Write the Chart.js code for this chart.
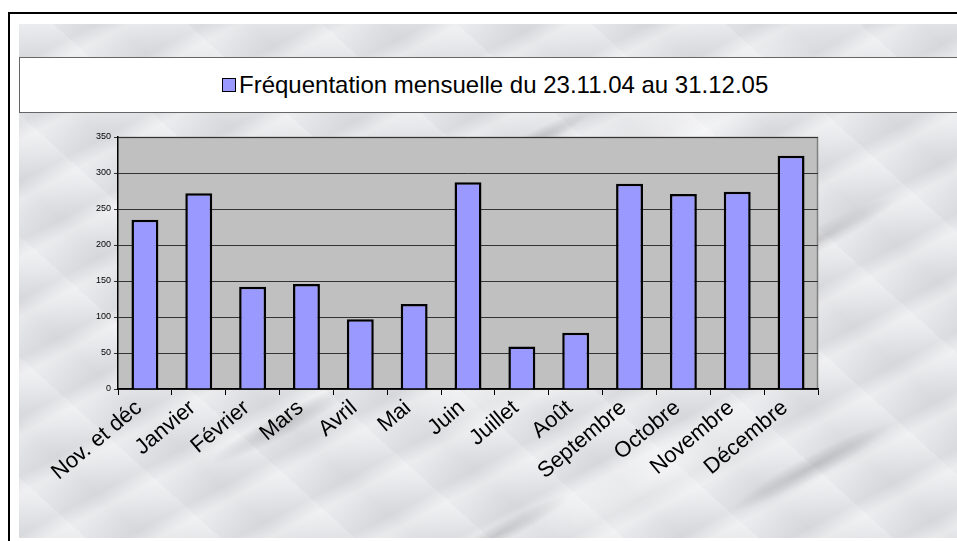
<!DOCTYPE html>
<html>
<head>
<meta charset="utf-8">
<script src="https://cdn.jsdelivr.net/npm/chart.js@4.4.1/dist/chart.umd.min.js"></script>
<style>
  html, body { margin: 0; padding: 0; background: #fff; }
  #page { position: relative; width: 957px; height: 541px; overflow: hidden; background: #fff; }
  #frame { position: absolute; left: 8px; top: 12px; width: 1000px; height: 600px;
           border-left: 2px solid #000; border-top: 2px solid #000; }
  #marble { position: absolute; left: 19px; top: 24px; right: 0; bottom: 3px; overflow: hidden;
    background-color: #e4e5e8; }
  #marble div { position: absolute; left: -200px; top: -300px; width: 1400px; height: 1100px;
    transform: rotate(-28deg);
    background-image:
      radial-gradient(ellipse 60px 10px at 10% 30%, rgba(110,110,115,0.35), transparent),
      radial-gradient(ellipse 80px 12px at 30% 52%, rgba(110,110,115,0.3), transparent),
      radial-gradient(ellipse 70px 10px at 55% 40%, rgba(110,110,115,0.3), transparent),
      radial-gradient(ellipse 90px 12px at 70% 60%, rgba(110,110,115,0.28), transparent),
      radial-gradient(ellipse 80px 10px at 40% 70%, rgba(110,110,115,0.3), transparent),
      radial-gradient(ellipse 90px 12px at 62% 78%, rgba(110,110,115,0.28), transparent),
      radial-gradient(ellipse 70px 10px at 22% 62%, rgba(120,120,125,0.28), transparent),
      radial-gradient(ellipse 60px 10px at 47% 48%, rgba(120,120,125,0.3), transparent),
      radial-gradient(ellipse 70px 10px at 78% 35%, rgba(120,120,125,0.28), transparent),
      radial-gradient(ellipse 60px 10px at 36% 32%, rgba(120,120,125,0.28), transparent),
      radial-gradient(ellipse 150px 40px at 48% 58%, rgba(255,255,255,0.6), transparent),
      radial-gradient(ellipse 160px 40px at 35% 40%, rgba(255,255,255,0.5), transparent),
      radial-gradient(ellipse 170px 45px at 66% 45%, rgba(255,255,255,0.5), transparent),
      radial-gradient(ellipse 160px 40px at 52% 72%, rgba(255,255,255,0.5), transparent),
      repeating-linear-gradient(0deg, rgba(255,255,255,0) 0px, rgba(255,255,255,0.3) 18px, rgba(150,150,155,0.1) 34px, rgba(255,255,255,0) 52px),
      repeating-linear-gradient(70deg, rgba(255,255,255,0) 0px, rgba(160,160,165,0.1) 40px, rgba(255,255,255,0.25) 90px);
  }
  #legend { position: absolute; left: 19px; top: 57px; width: 960px; height: 56px;
            background: #fff; border: 1px solid #666; box-sizing: border-box; }
  #legend span { position: absolute; left: 202px; top: 13px; font: 24px "Liberation Sans", Arial, sans-serif;
                 color: #000; white-space: nowrap; }
  #legend i { display: inline-block; width: 12px; height: 12px; background: #9999ff; border: 1px solid #000;
              margin-right: 3px; vertical-align: 1px; }
  #wrap { position: absolute; left: 0; top: 0; width: 957px; height: 541px; }
</style>
</head>
<body>
<div id="page">
  <div id="frame"></div>
  <div id="marble"><div></div></div>
  <div id="legend"><span><i></i>Fréquentation mensuelle du 23.11.04 au 31.12.05</span></div>
  <div id="wrap"><canvas id="chart"></canvas></div>
</div>
<script>
const months = ['Nov. et déc', 'Janvier', 'Février', 'Mars', 'Avril', 'Mai', 'Juin',
                'Juillet', 'Août', 'Septembre', 'Octobre', 'Novembre', 'Décembre'];
const visits = [235, 272, 142, 146, 97, 118, 287, 59, 78, 285, 271, 274, 324];
const seriesName = 'Fréquentation mensuelle du 23.11.04 au 31.12.05';

// grey plot area with thin border, like the old spreadsheet chart
const plotBg = {
  id: 'plotBg',
  beforeDraw(chart) {
    const { ctx, chartArea: a } = chart;
    ctx.save();
    ctx.fillStyle = '#c0c0c0';
    ctx.fillRect(a.left, a.top, a.right - a.left, a.bottom - a.top);
    ctx.strokeStyle = '#808080';
    ctx.lineWidth = 1.5;
    ctx.beginPath();
    ctx.moveTo(a.left, a.top + 0.5);
    ctx.lineTo(a.right - 0.5, a.top + 0.5);
    ctx.lineTo(a.right - 0.5, a.bottom);
    ctx.stroke();
    ctx.restore();
  }
};

new Chart(document.getElementById('chart'), {
  type: 'bar',
  data: {
    labels: months,
    datasets: [{
      label: seriesName,
      data: visits,
      backgroundColor: '#9999ff',
      borderColor: '#000',
      borderWidth: 2.5,
      barPercentage: 0.5,
      categoryPercentage: 1
    }]
  },
  options: {
    responsive: true,
    maintainAspectRatio: false,
    animation: false,
    layout: { padding: { top: 137, right: 139, left: 0, bottom: 0 } },
    plugins: { legend: { display: false }, tooltip: { enabled: false } },
    scales: {
      x: {
        afterFit(s) { s.height = 152; },
        grid: { drawOnChartArea: false, drawTicks: true, tickLength: 6, color: '#000' },
        border: { color: '#000', width: 1.5 },
        ticks: {
          color: '#000', minRotation: 40, maxRotation: 40, autoSkip: false,
          font: { family: '"Liberation Sans", Arial', size: 22 }, padding: 0, labelOffset: -6
        }
      },
      y: {
        min: 0, max: 350,
        afterFit(s) { s.width = 118; },
        grid: { color: '#333', lineWidth: 1, tickLength: 4, drawTicks: true },
        border: { color: '#000', width: 1.5 },
        ticks: {
          stepSize: 50, color: '#000', padding: 3,
          font: { family: '"Liberation Sans", Arial', size: 9 }
        }
      }
    }
  },
  plugins: [plotBg]
});
</script>
</body>
</html>
